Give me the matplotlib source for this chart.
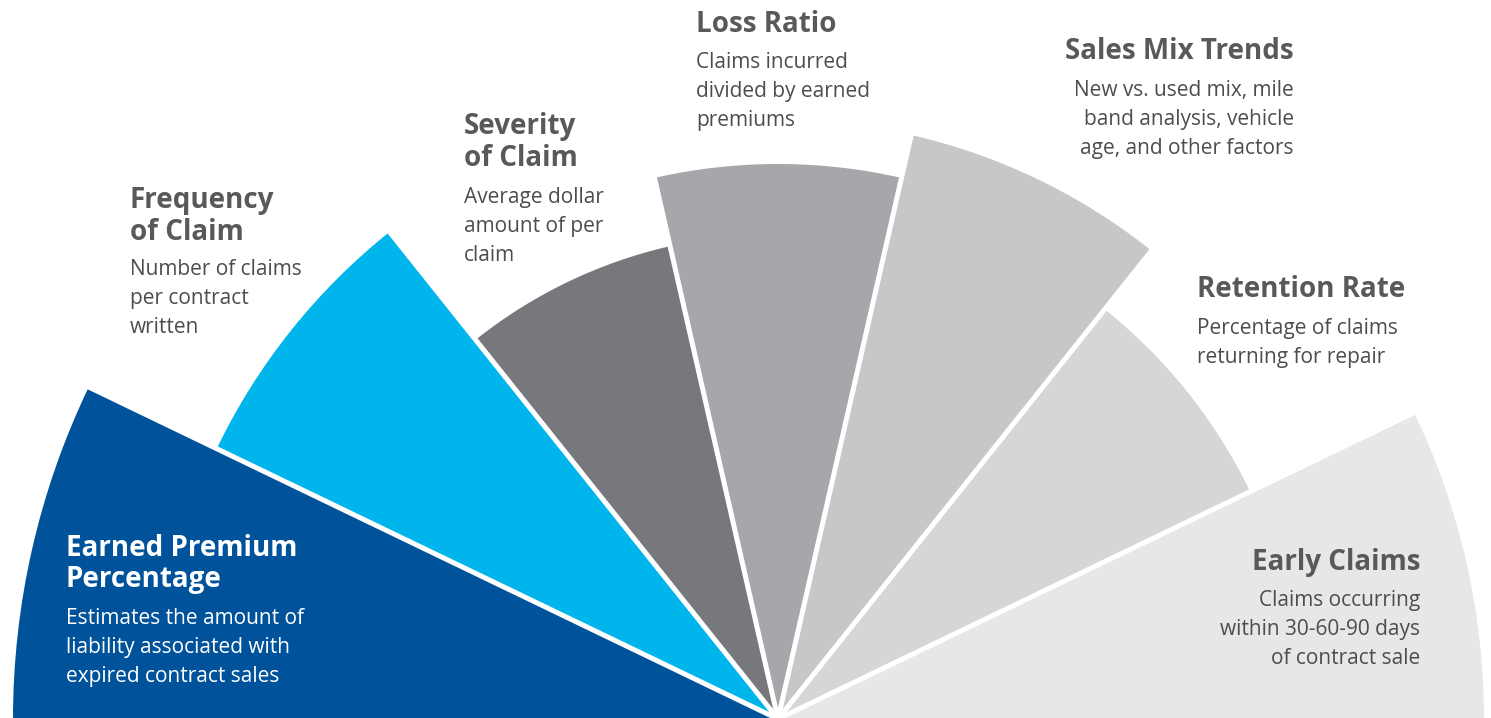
import matplotlib.pyplot as plt
from matplotlib.patches import Wedge
import numpy as np

# Fan chart: seven equal angle slices, radius varies per metric
titles = ["Earned Premium\nPercentage", "Frequency\nof Claim", "Severity\nof Claim",
          "Loss Ratio", "Sales Mix Trends", "Retention Rate", "Early Claims"]
descs = ["Estimates the amount of\nliability associated with\nexpired contract sales",
         "Number of claims\nper contract\nwritten",
         "Average dollar\namount of per\nclaim",
         "Claims incurred\ndivided by earned\npremiums",
         "New vs. used mix, mile\nband analysis, vehicle\nage, and other factors",
         "Percentage of claims\nreturning for repair",
         "Claims occurring\nwithin 30-60-90 days\nof contract sale"]
radius = [765, 623, 485, 555, 599, 524, 706]
colors = ["#00529B", "#00B5EC", "#77787B", "#A6A7AA", "#C6C7C9", "#D5D6D8", "#E6E7E8"]

# text layout in pixels (x, title baseline, desc baseline, alignment)
layout = [(66, 556, 624, "left"), (130, 208, 275, "left"), (464, 134, 203, "left"),
          (696, 32, 68, "left"), (1294, 59, 96, "right"), (1197, 297, 334, "left"),
          (1420, 570, 606, "right")]

W, H = 1491, 718
cx, cy = 778, -1

plt.rcParams['font.family'] = ['Open Sans', 'DejaVu Sans']
fig = plt.figure(figsize=(W / 100, H / 100), dpi=100)
ax = fig.add_axes([0, 0, 1, 1])
ax.set_xlim(0, W)
ax.set_ylim(0, H)
ax.axis('off')

n = len(radius)
step = 180.0 / n
for i in range(n):
    t2 = 180 - i * step
    t1 = t2 - step
    ax.add_patch(Wedge((cx, cy), radius[i], t1, t2, facecolor=colors[i],
                       edgecolor='none'))
# white gaps between slices
for i in range(1, n):
    a = np.radians(180 - i * step)
    r = max(radius[i - 1], radius[i]) + 5
    ax.plot([cx, cx + r * np.cos(a)], [cy, cy + r * np.sin(a)], color='white',
            lw=3.6, solid_capstyle='butt')

for i in range(n):
    x, ty, dy, ha = layout[i]
    tc = 'white' if i == 0 else '#58595B'
    dc = 'white' if i == 0 else '#4D4D4F'
    for k, line in enumerate(titles[i].split("\n")):
        ax.text(x, H - (ty + k * 31.5), line, ha=ha, va='baseline', fontsize=20,
                fontweight='bold', color=tc)
    for k, line in enumerate(descs[i].split("\n")):
        ax.text(x, H - (dy + k * 29), line, ha=ha, va='baseline', fontsize=15,
                color=dc)

fig.savefig('out.png', dpi=100)
